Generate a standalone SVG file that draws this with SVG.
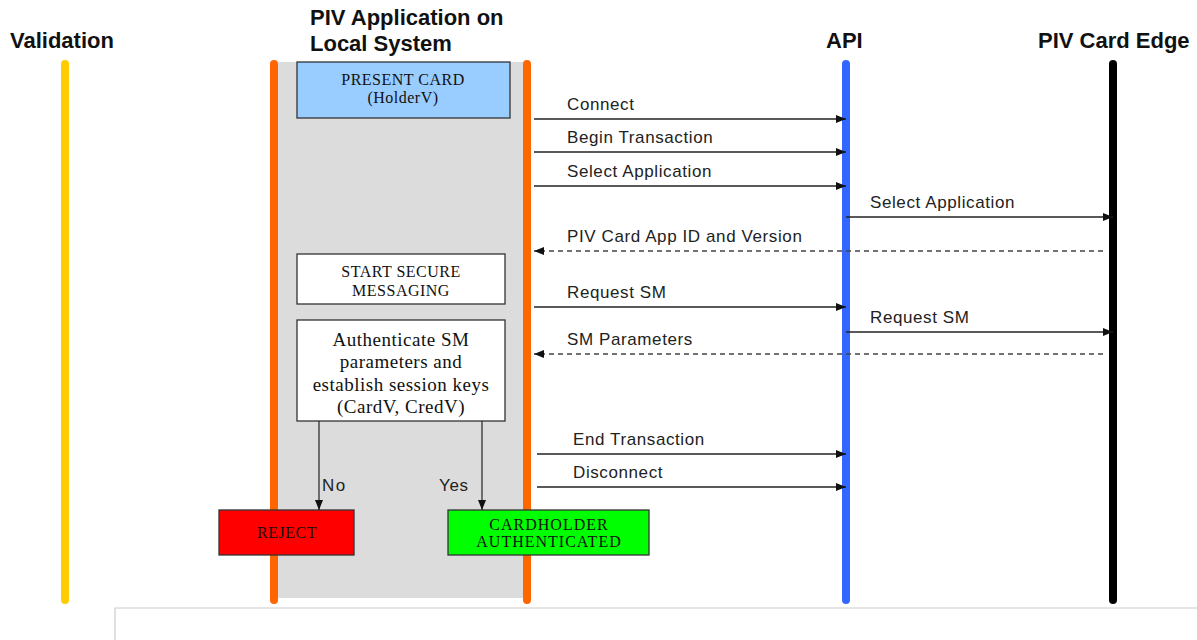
<svg xmlns="http://www.w3.org/2000/svg" width="1197" height="640" viewBox="0 0 1197 640">
  <style>
    .title { font-family: "Liberation Sans", Arial, sans-serif; font-weight: bold; font-size: 22px; fill: #111; }
    .msg { font-family: "Liberation Sans", Arial, sans-serif; font-size: 17px; letter-spacing: 0.6px; fill: #222; }
    .box { stroke: #333; stroke-width: 1.3; }
    .boxtxt { font-family: "Liberation Serif", "Times New Roman", serif; font-size: 16px; letter-spacing: 0.5px; fill: #111; text-anchor: middle; }
    .big { font-size: 19px; }
    .wide { letter-spacing: 1px; }
    .life { stroke-width: 8; stroke-linecap: round; fill: none; }
    .call { stroke: #222; stroke-width: 1.5; fill: none; marker-end: url(#arr); }
    .ret { stroke: #444; stroke-width: 1.5; fill: none; stroke-dasharray: 5 4; marker-end: url(#arr); }
    .flow { stroke: #222; stroke-width: 1.2; fill: none; marker-end: url(#arr); }
  </style>
  <defs>
    <marker id="arr" markerWidth="10" markerHeight="8" refX="10" refY="4" orient="auto" markerUnits="userSpaceOnUse">
      <path d="M0,0 L10,4 L0,8 Z" fill="#111"/>
    </marker>
  </defs>

  <rect width="1197" height="640" fill="#fff"/>

  <!-- local system swimlane background -->
  <rect x="278" y="62" width="246" height="536" fill="#dcdcdc"/>

  <!-- lifelines -->
  <g id="lifelines">
    <line class="life" x1="65" y1="64" x2="65" y2="600" stroke="#FFCC00"/>
    <line class="life" x1="274" y1="64" x2="274" y2="600" stroke="#FF6600"/>
    <line class="life" x1="527" y1="64" x2="527" y2="600" stroke="#FF6600"/>
    <line class="life" x1="846" y1="64" x2="846" y2="600" stroke="#3366FF"/>
    <line class="life" x1="1113" y1="64" x2="1113" y2="600" stroke="#000"/>
  </g>

  <!-- column titles -->
  <g id="titles">
    <text class="title" x="10" y="48">Validation</text>
    <text class="title" x="310" y="25">PIV Application on</text>
    <text class="title" x="310" y="51">Local System</text>
    <text class="title" x="826" y="48">API</text>
    <text class="title" x="1038" y="48">PIV Card Edge</text>
  </g>

  <g id="present-card">
    <rect class="box" x="297" y="62" width="213" height="56" fill="#99CCFF"/>
    <text class="boxtxt" x="403" y="85">PRESENT CARD</text>
    <text class="boxtxt" x="403" y="103">(HolderV)</text>
  </g>

  <g id="start-sm">
    <rect class="box" x="297" y="254" width="208" height="50" fill="#fff"/>
    <text class="boxtxt" x="401" y="277">START SECURE</text>
    <text class="boxtxt" x="401" y="296">MESSAGING</text>
  </g>

  <g id="authenticate">
    <rect class="box" x="297" y="320" width="208" height="101" fill="#fff"/>
    <text class="boxtxt big" x="401" y="346">Authenticate SM</text>
    <text class="boxtxt big" x="401" y="368">parameters and</text>
    <text class="boxtxt big" x="401" y="391">establish session keys</text>
    <text class="boxtxt big" x="401" y="413">(CardV, CredV)</text>
  </g>

  <g id="reject">
    <rect class="box" x="219" y="510" width="135" height="45" fill="#FF0000"/>
    <text class="boxtxt" x="287" y="538">REJECT</text>
  </g>

  <g id="authenticated">
    <rect class="box" x="448" y="510" width="201" height="45" fill="#00FF00"/>
    <text class="boxtxt wide" x="549" y="530">CARDHOLDER</text>
    <text class="boxtxt wide" x="549" y="547">AUTHENTICATED</text>
  </g>

  <!-- connectors -->
  <g id="connectors">
    <line class="flow" x1="319" y1="421" x2="319" y2="510"/>
    <line class="flow" x1="482" y1="421" x2="482" y2="510"/>
    <text class="msg" x="322" y="491" style="letter-spacing:1.5px">No</text>
    <text class="msg" x="439" y="491">Yes</text>

    <line class="call" x1="534" y1="119" x2="846" y2="119"/>
    <text class="msg" x="567" y="110">Connect</text>

    <line class="call" x1="534" y1="152" x2="846" y2="152"/>
    <text class="msg" x="567" y="143">Begin Transaction</text>

    <line class="call" x1="534" y1="186" x2="846" y2="186"/>
    <text class="msg" x="567" y="177">Select Application</text>

    <line class="call" x1="846" y1="217" x2="1113" y2="217"/>
    <text class="msg" x="870" y="208">Select Application</text>

    <line class="ret" x1="1103" y1="251" x2="534" y2="251"/>
    <text class="msg" x="567" y="242">PIV Card App ID and Version</text>

    <line class="call" x1="534" y1="307" x2="846" y2="307"/>
    <text class="msg" x="567" y="298">Request SM</text>

    <line class="call" x1="846" y1="332" x2="1113" y2="332"/>
    <text class="msg" x="870" y="323">Request SM</text>

    <line class="ret" x1="1103" y1="354" x2="534" y2="354"/>
    <text class="msg" x="567" y="345">SM Parameters</text>

    <line class="call" x1="537" y1="454" x2="846" y2="454"/>
    <text class="msg" x="573" y="445">End Transaction</text>

    <line class="call" x1="537" y1="487" x2="846" y2="487"/>
    <text class="msg" x="573" y="478">Disconnect</text>
  </g>

  <!-- lower frame edge -->
  <path d="M115,640 V608 H1197" fill="none" stroke="#cccccc" stroke-width="1.2"/>
</svg>
